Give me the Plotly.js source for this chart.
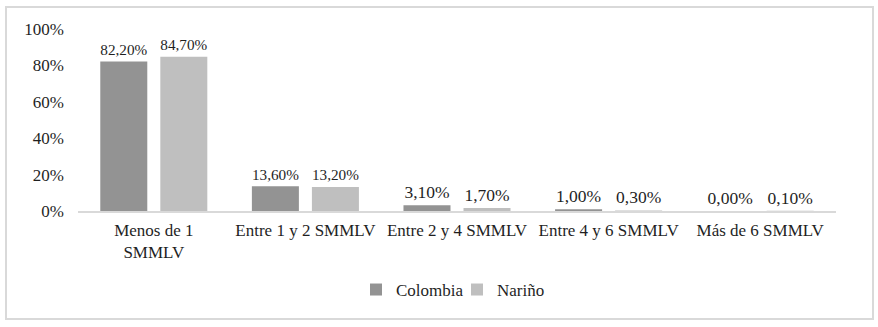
<!DOCTYPE html>
<html>
<head>
<meta charset="utf-8">
<script src="https://cdn.plot.ly/plotly-3.0.1.min.js"></script>
<style>
  html, body { margin: 0; padding: 0; background: #fff; }
  #wrap { position: relative; width: 878px; height: 327px; }
  #chart { position: absolute; left: 0; top: 0; width: 878px; height: 327px; }
  #frame { position: absolute; left: 5px; top: 6px; width: 865px; height: 310px; border: 2px solid #d9d9d9; pointer-events: none; }
</style>
</head>
<body>
<div id="wrap">
  <div id="chart"></div>
  <div id="frame"></div>
</div>
<script>
const categories = ["Menos de 1<br>SMMLV", "Entre 1 y 2 SMMLV", "Entre 2 y 4 SMMLV", "Entre 4 y 6 SMMLV", "Más de 6 SMMLV"];
const colombia = [0.822, 0.136, 0.031, 0.010, 0.000];
const narino = [0.847, 0.132, 0.017, 0.003, 0.001];
const seriesNames = ["Colombia", "Nariño"];

const font = { family: "Liberation Serif", size: 17, color: "#1f1f1f" };
const labelFont = { family: "Liberation Serif", size: 17.5, color: "#1f1f1f" };

const traces = [
  { type: "bar", name: seriesNames[0], x: categories, y: colombia, marker: { color: "#939393" },
    texttemplate: "%{y:.2%}", textposition: "outside", cliponaxis: false,
    textfont: labelFont, hoverinfo: "skip" },
  { type: "bar", name: seriesNames[1], x: categories, y: narino, marker: { color: "#bfbfbf" },
    texttemplate: "%{y:.2%}", textposition: "outside", cliponaxis: false,
    textfont: labelFont, hoverinfo: "skip" }
];

const layout = {
  width: 878, height: 327,
  margin: { l: 78, r: 42, t: 29, b: 116 },
  paper_bgcolor: "#ffffff", plot_bgcolor: "#ffffff",
  font: font,
  separators: ",.",
  barmode: "group",
  bargap: 0.208,
  bargroupgap: 0.217,
  showlegend: true,
  legend: { orientation: "h", x: 0.5, xanchor: "center", y: -0.335, yanchor: "top", font: font, traceorder: "normal", itemwidth: 30, entrywidth: 56, entrywidthmode: "pixels" },
  xaxis: { showline: true, linecolor: "#d9d9d9", linewidth: 1.5, ticks: "", tickfont: font, tickangle: 0, ticklabelstandoff: 3, showgrid: false, zeroline: false, fixedrange: true },
  yaxis: { range: [0, 1], dtick: 0.2, tickformat: ".0%", showgrid: false, zeroline: false, showline: false, ticks: "", tickfont: font, ticklabelstandoff: 13, fixedrange: true }
};

Plotly.newPlot("chart", traces, layout, { displayModeBar: false, staticPlot: true });
</script>
</body>
</html>
